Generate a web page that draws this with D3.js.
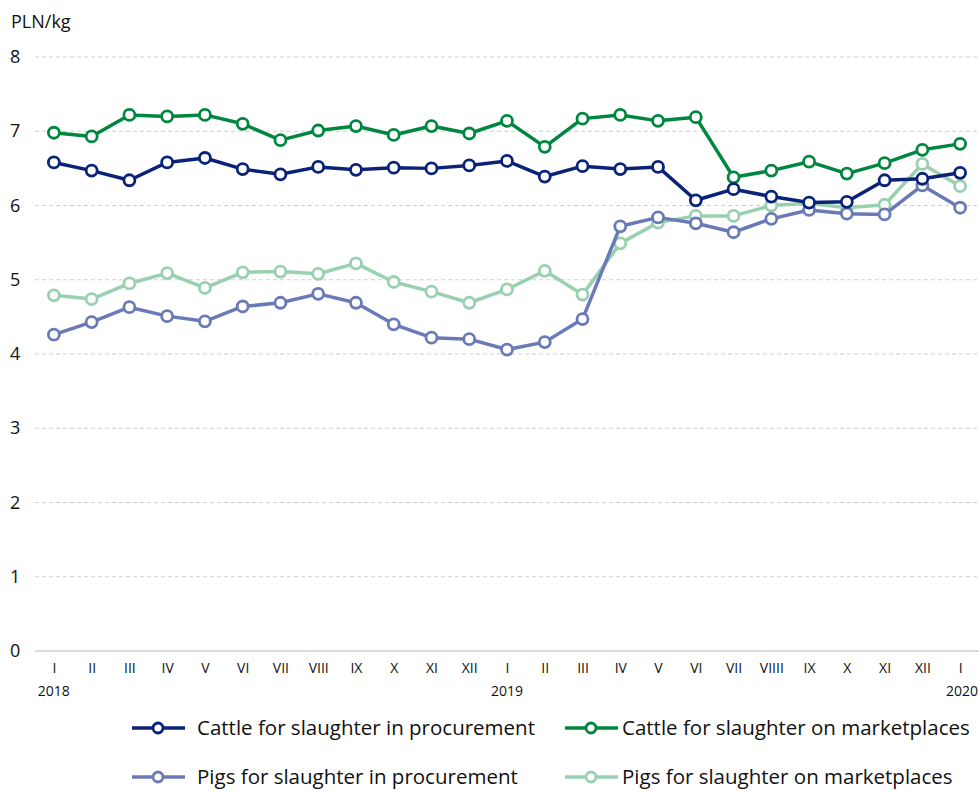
<!DOCTYPE html>
<html>
<head>
<meta charset="utf-8">
<script src="https://cdn.jsdelivr.net/npm/d3@7"></script>
<style>
  body { margin: 0; background: #fff; }
  text { font-family: "Open Sans", "Noto Sans", sans-serif; fill: #111; }
  .grid line { stroke: #cfcfcf; stroke-dasharray: 4 3; }
  .domain { display: none; }
</style>
</head>
<body>
<svg id="chart" width="979" height="791"></svg>
<script>
const months = ["I","II","III","IV","V","VI","VII","VIII","IX","X","XI","XII",
                "I","II","III","IV","V","VI","VII","VIIII","IX","X","XI","XII","I"];
const years = {0: "2018", 12: "2019", 24: "2020"};

const cattleProcurement = [6.58, 6.47, 6.34, 6.58, 6.64, 6.49, 6.42, 6.52, 6.48, 6.51, 6.50, 6.54,
                           6.60, 6.39, 6.53, 6.49, 6.52, 6.07, 6.22, 6.12, 6.04, 6.05, 6.34, 6.36, 6.44];
const cattleMarket = [6.98, 6.93, 7.22, 7.20, 7.22, 7.10, 6.88, 7.01, 7.07, 6.95, 7.07, 6.97,
                      7.14, 6.79, 7.17, 7.22, 7.14, 7.19, 6.38, 6.47, 6.59, 6.43, 6.57, 6.75, 6.83];
const pigsProcurement = [4.26, 4.43, 4.63, 4.51, 4.44, 4.64, 4.69, 4.81, 4.69, 4.40, 4.22, 4.20,
                         4.06, 4.16, 4.47, 5.72, 5.84, 5.76, 5.64, 5.82, 5.94, 5.89, 5.88, 6.27, 5.97];
const pigsMarket = [4.79, 4.74, 4.95, 5.09, 4.89, 5.10, 5.11, 5.08, 5.22, 4.97, 4.84, 4.69,
                    4.87, 5.12, 4.80, 5.49, 5.77, 5.86, 5.86, 6.00, 6.03, 5.97, 6.01, 6.56, 6.26];

const yTicks = [0, 1, 2, 3, 4, 5, 6, 7, 8];

const series = [
  {name: "Cattle for slaughter in procurement", values: cattleProcurement, color: "#0a2378"},
  {name: "Cattle for slaughter on marketplaces", values: cattleMarket, color: "#00873f"},
  {name: "Pigs for slaughter in procurement", values: pigsProcurement, color: "#6a7ab6"},
  {name: "Pigs for slaughter on marketplaces", values: pigsMarket, color: "#99d1b0"}
];
// drawing order: back to front
const drawOrder = [3, 2, 1, 0];

const svg = d3.select("#chart");
const plotLeft = 35, plotRight = 979, plotTop = 57, plotBottom = 651;

const x = d3.scalePoint()
    .domain(d3.range(months.length))
    .range([plotLeft, plotRight])
    .padding(0.5);

const y = d3.scaleLinear()
    .domain([0, 8])
    .range([plotBottom, plotTop]);

// horizontal grid
svg.append("g").attr("class", "grid")
    .selectAll("line")
    .data(yTicks.filter(d => d > 0))
    .enter().append("line")
    .attr("x1", plotLeft).attr("x2", plotRight)
    .attr("y1", d => y(d)).attr("y2", d => y(d));

svg.append("line")
    .attr("x1", plotLeft).attr("x2", plotRight)
    .attr("y1", y(0)).attr("y2", y(0))
    .style("stroke", "#d0d0d0").style("stroke-width", 1.5);

// y labels
svg.selectAll("text.ytick")
    .data(yTicks).enter()
    .append("text").attr("class", "ytick")
    .attr("x", 10).attr("y", d => y(d) + 6)
    .style("font-size", "18px")
    .text(d => d);

svg.append("text")
    .attr("x", 11).attr("y", 28)
    .style("font-size", "18px")
    .text("PLN/kg");

// x axis
const xAxis = d3.axisBottom(x)
    .tickSize(0)
    .tickPadding(12)
    .tickFormat(i => months[i]);
const gx = svg.append("g")
    .attr("transform", `translate(0,${plotBottom})`)
    .call(xAxis);
gx.selectAll("text")
    .style("font-size", "14px")
    .style("font-family", "'Open Sans', sans-serif")
    .attr("fill", "#111");

svg.selectAll("text.year")
    .data(Object.keys(years).map(Number)).enter()
    .append("text").attr("class", "year")
    .attr("x", i => i === 24 ? plotRight - 1 : x(i))
    .attr("y", 696)
    .attr("text-anchor", i => i === 24 ? "end" : "middle")
    .style("font-size", "14px")
    .text(i => years[i]);

// lines
const line = d3.line()
    .x((d, i) => x(i))
    .y(d => y(d));

drawOrder.forEach(k => {
  const s = series[k];
  const g = svg.append("g");
  g.append("path")
      .datum(s.values)
      .attr("d", line)
      .style("fill", "none")
      .style("stroke", s.color)
      .style("stroke-width", 3.5)
      .style("stroke-linejoin", "round");
  g.selectAll("circle")
      .data(s.values).enter()
      .append("circle")
      .attr("cx", (d, i) => x(i))
      .attr("cy", d => y(d))
      .attr("r", 5.5)
      .style("fill", "#fff")
      .style("stroke", s.color)
      .style("stroke-width", 2.8);
});

// legend
const legendPos = [[132, 728, 65], [565, 728, 57], [132, 777, 65], [565, 777, 57]];
series.forEach((s, k) => {
  const [lx, ly, tx] = legendPos[k];
  const g = svg.append("g").attr("transform", `translate(${lx},${ly})`);
  g.append("line")
      .attr("x1", 0).attr("x2", 53).attr("y1", 0).attr("y2", 0)
      .style("stroke", s.color).style("stroke-width", 3.5);
  g.append("circle")
      .attr("cx", 26).attr("cy", 0).attr("r", 5)
      .style("fill", "#fff").style("stroke", s.color).style("stroke-width", 2.8);
  g.append("text")
      .attr("x", tx).attr("y", 7)
      .style("font-size", "20.5px")
      .text(s.name);
});
</script>
</body>
</html>
